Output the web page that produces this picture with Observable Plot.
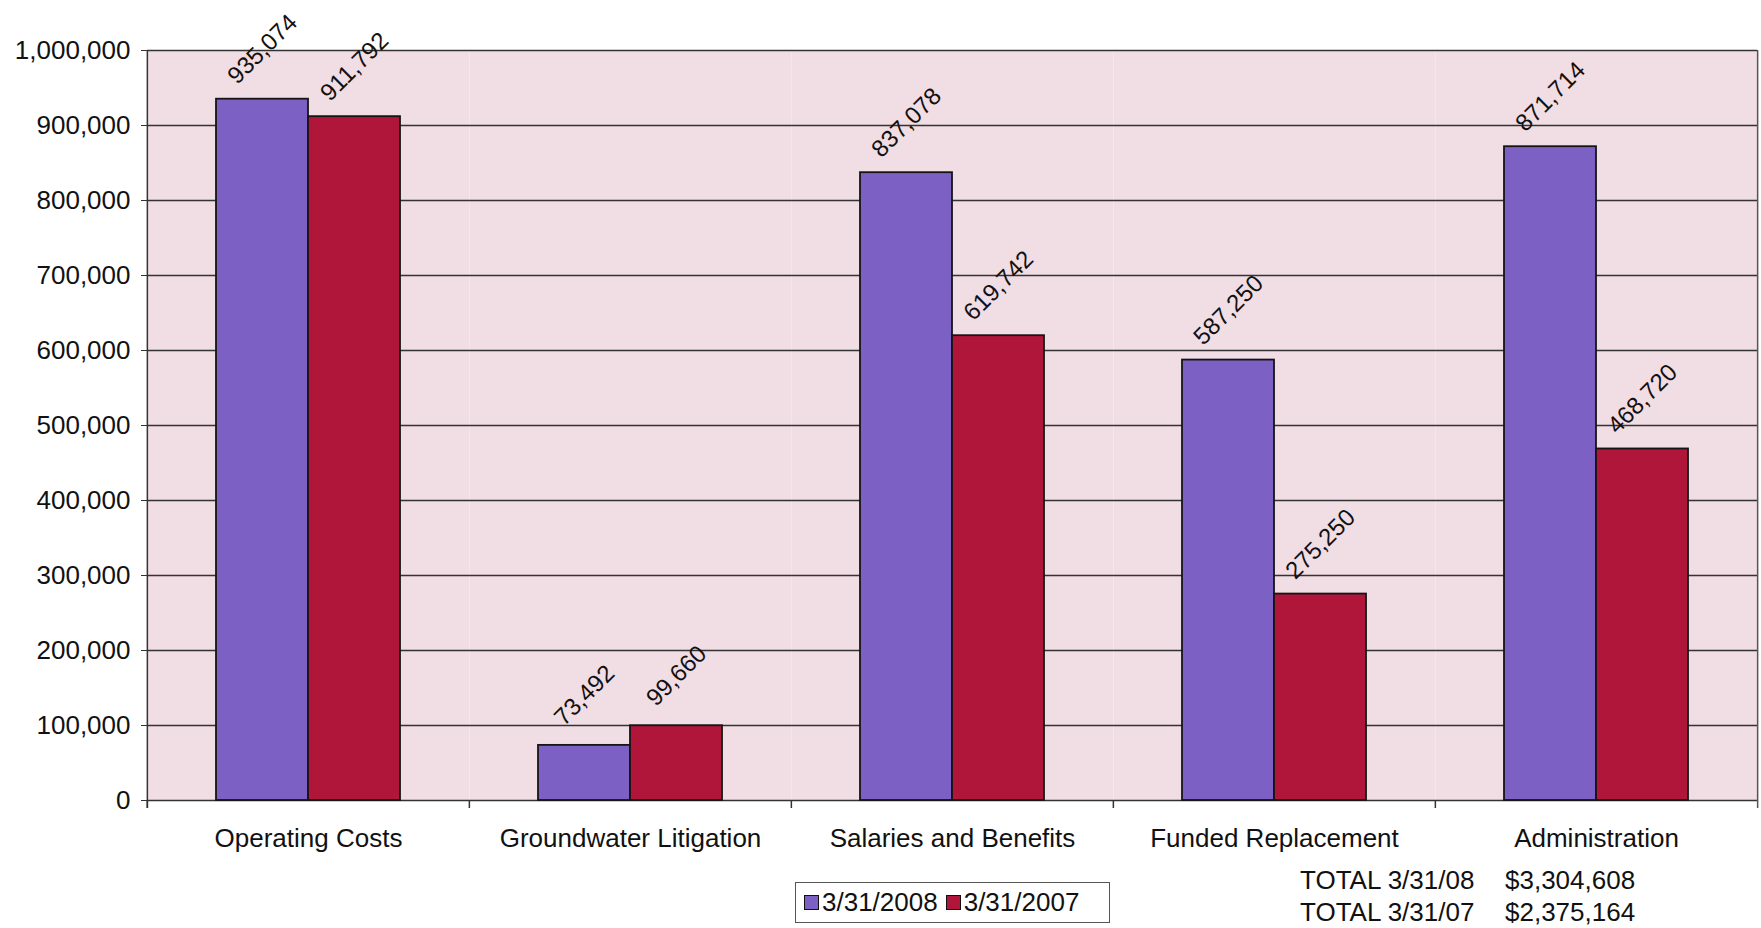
<!DOCTYPE html>
<html>
<head>
<meta charset="utf-8">
<script src="https://cdn.jsdelivr.net/npm/d3@7"></script>
<script src="https://cdn.jsdelivr.net/npm/@observablehq/plot@0.6"></script>
<style>
  body { margin: 0; background: #fff; font-family: "Liberation Sans", Arial, sans-serif; color: #111; }
  #wrap { position: relative; width: 1761px; }
  #below { position: relative; width: 1761px; height: 68px; }
  .legend { position: absolute; left: 795px; top: 22px; width: 315px; height: 41px; box-sizing: border-box;
            border: 1.5px solid #555; background: #fff; display: flex; align-items: center; font-size: 26px; padding-left: 8px; }
  .legend .item { display: flex; align-items: center; margin-right: 8px; }
  .legend .sw { width: 15px; height: 15px; border: 1.5px solid #111; margin-right: 3px; box-sizing: border-box; }
  .totals { position: absolute; left: 1300px; top: 4px; font-size: 26px; line-height: 32px; }
  .totals .row { display: flex; }
  .totals .lab { width: 205px; }
</style>
</head>
<body>
<div id="wrap">
  <div id="chart"></div>
  <div id="below"></div>
</div>
<script>
const categories = ["Operating Costs", "Groundwater Litigation", "Salaries and Benefits", "Funded Replacement", "Administration"];
const series = ["3/31/2008", "3/31/2007"];
const values2008 = [935074, 73492, 837078, 587250, 871714];
const values2007 = [911792, 99660, 619742, 275250, 468720];
const yTicks = [0, 100000, 200000, 300000, 400000, 500000, 600000, 700000, 800000, 900000, 1000000];
const totalLabels = ["TOTAL 3/31/08", "TOTAL 3/31/07"];
const totalValues = ["$3,304,608", "$2,375,164"];
const seriesColors = ["#7c60c4", "#b0153a"];

const seriesValues = [values2008, values2007];
const rows = [];
categories.forEach((c, i) => {
  series.forEach((s, j) => rows.push({category: c, series: s, value: seriesValues[j][i]}));
});

const W = 1761, H = 860, mL = 146, mR = 3, mT = 50, mB = 60;
const facetW = (W - mL - mR) / categories.length;
const bw = facetW / 3.5;
const edgeOffset = bw * 0.75 + bw / 2;
const fmt = d3.format(",");

const chart = Plot.plot({
  width: W, height: H,
  marginLeft: mL, marginRight: mR, marginTop: mT, marginBottom: mB,
  style: {fontFamily: "'Liberation Sans', Arial, sans-serif", fontSize: "26px", color: "#111", background: "transparent"},
  fx: {domain: categories, padding: 0, label: null},
  x: {domain: series, paddingInner: 0, paddingOuter: 0.75, axis: null},
  y: {domain: [0, 1000000], label: null},
  color: {domain: series, range: seriesColors},
  marks: [
    Plot.frame({fill: "#f1dde4", stroke: null}),
    Plot.ruleY(yTicks, {stroke: "#333", strokeWidth: 1.5}),
    Plot.barY(rows, {fx: "category", x: "series", y: "value", fill: "series", stroke: "#151515", strokeWidth: 1.8}),
    Plot.text(rows, {fx: "category", x: "series", y: "value", text: d => fmt(d.value), rotate: -45, dy: -50, fontSize: 24, fill: "#111"}),
    Plot.axisY({ticks: yTicks, tickFormat: fmt, tickSize: 6, tickPadding: 11, fontSize: 26, label: null, stroke: "#333"}),
    Plot.axisFx({anchor: "bottom", tickSize: 0, tickPadding: 28, fontSize: 26, label: null}),
    // category boundary ticks
    Plot.ruleX(categories.map(c => ({category: c, s: series[0]})), {fx: "category", x: "s", y1: 0, y2: 0, insetBottom: -8, dx: -edgeOffset, stroke: "#333", strokeWidth: 1.5}),
    // left axis line
    Plot.ruleX([{category: categories[0], s: series[0]}], {fx: "category", x: "s", y1: 1000000, y2: 0, insetBottom: -8, dx: -edgeOffset, stroke: "#333", strokeWidth: 1.5}),
    // right border
    Plot.ruleX([{category: categories[categories.length - 1], s: series[1]}], {fx: "category", x: "s", y1: 1000000, y2: 0, insetBottom: -8, dx: edgeOffset, stroke: "#555", strokeWidth: 1.5})
  ]
});
document.getElementById("chart").appendChild(chart);

const below = document.getElementById("below");
const legend = document.createElement("div");
legend.className = "legend";
series.forEach((s, i) => {
  const item = document.createElement("div");
  item.className = "item";
  const sw = document.createElement("span");
  sw.className = "sw";
  sw.style.background = seriesColors[i];
  const t = document.createElement("span");
  t.textContent = s;
  item.appendChild(sw); item.appendChild(t);
  legend.appendChild(item);
});
below.appendChild(legend);

const totals = document.createElement("div");
totals.className = "totals";
totalLabels.forEach((l, i) => {
  const r = document.createElement("div");
  r.className = "row";
  const a = document.createElement("span"); a.className = "lab"; a.textContent = l;
  const b = document.createElement("span"); b.textContent = totalValues[i];
  r.appendChild(a); r.appendChild(b);
  totals.appendChild(r);
});
below.appendChild(totals);
</script>
</body>
</html>
